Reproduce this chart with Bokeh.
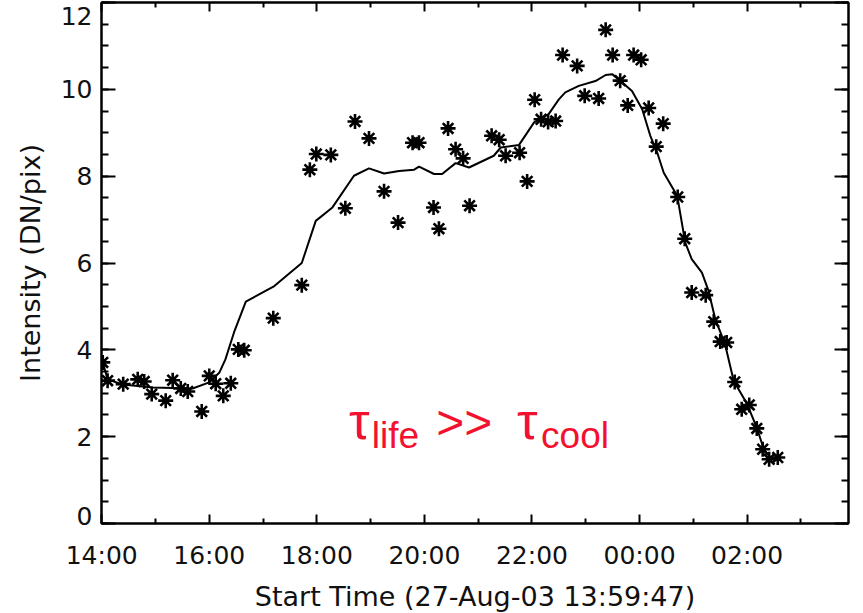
from bokeh.plotting import figure
from bokeh.models import Range1d, FixedTicker, LinearAxis, Label
from bokeh.embed import file_html
from bokeh.resources import INLINE

# ---- data (hours of day, continuing past midnight as 24+) ----
star_hours = [14.02, 14.11, 14.40, 14.67, 14.79, 14.93, 15.19, 15.32, 15.47, 15.60,
              15.86, 16.00, 16.12, 16.26, 16.40, 16.54, 16.65, 17.19, 17.72, 17.87,
              17.99, 18.26, 18.53, 18.71, 18.97, 19.25, 19.51, 19.78, 19.90, 20.17,
              20.27, 20.44, 20.58, 20.72, 20.84, 21.25, 21.39, 21.51, 21.77, 21.91,
              22.05, 22.17, 22.30, 22.44, 22.57, 22.84, 22.98, 23.24, 23.37, 23.50,
              23.64, 23.78, 23.89, 24.03, 24.17, 24.31, 24.44, 24.71, 24.84, 24.97,
              25.23, 25.38, 25.50, 25.62, 25.77, 25.90, 26.04, 26.18, 26.29, 26.41,
              26.57]
star_values = [3.71, 3.29, 3.21, 3.32, 3.27, 2.98, 2.83, 3.30, 3.11, 3.04,
               2.58, 3.40, 3.22, 2.94, 3.23, 4.01, 3.99, 4.73, 5.49, 8.15,
               8.51, 8.49, 7.26, 9.26, 8.87, 7.65, 6.93, 8.77, 8.77, 7.28,
               6.79, 9.10, 8.62, 8.41, 7.32, 8.93, 8.84, 8.47, 8.54, 7.88,
               9.76, 9.31, 9.25, 9.27, 10.79, 10.54, 9.85, 9.79, 11.37, 10.79,
               10.20, 9.63, 10.79, 10.68, 9.57, 8.68, 9.21, 7.52, 6.56, 5.32,
               5.26, 4.65, 4.19, 4.17, 3.26, 2.63, 2.73, 2.19, 1.71, 1.48,
               1.52]

line_hours = [14.02, 14.11, 14.39, 14.95, 15.69, 16.00, 16.19, 16.30, 16.46, 16.68,
              17.21, 17.72, 17.98, 18.29, 18.69, 18.97, 19.25, 19.53, 19.81, 19.90,
              20.18, 20.33, 20.58, 20.83, 21.29, 21.42, 21.76, 22.04, 22.31, 22.50,
              22.62, 22.87, 23.18, 23.37, 23.49, 23.64, 23.86, 24.05, 24.20, 24.33,
              24.45, 24.70, 24.85, 24.97, 25.16, 25.28, 25.41, 25.59, 25.75, 26.00,
              26.18, 26.31, 26.46]
line_values = [3.71, 3.32, 3.20, 3.13, 3.11, 3.25, 3.48, 3.78, 4.40, 5.11,
               5.47, 6.00, 6.97, 7.28, 8.01, 8.18, 8.06, 8.12, 8.15, 8.22,
               8.05, 8.05, 8.30, 8.20, 8.47, 8.66, 8.72, 9.24, 9.43, 9.77,
               9.93, 10.08, 10.19, 10.33, 10.35, 10.20, 9.96, 9.54, 8.93, 8.54,
               8.08, 7.55, 6.47, 6.09, 5.78, 5.37, 4.70, 4.13, 3.29, 2.75,
               2.21, 1.71, 1.48]

x_tick_hours = [14, 16, 18, 20, 22, 24, 26]
x_tick_labels = ["14:00", "16:00", "18:00", "20:00", "22:00", "00:00", "02:00"]
x_minor_hours = [15, 17, 19, 21, 23, 25, 27]
y_ticks = [0, 2, 4, 6, 8, 10, 12]
y_tick_labels = ["0", "2", "4", "6", "8", "10", "12"]
y_minor = [0.5 * i for i in range(25)]
# label anchors: like the original, the end labels sit just inside the axis span
y_label_anchor = [0.18, 2, 4, 6, 8, 10, 11.69]

start_hour = 13 + 59 / 60 + 47 / 3600
span_seconds = 50000

RED = "#f2122f"
FONT = "DejaVu Sans"
TXT = "#111111"

p = figure(frame_width=747, frame_height=521,
           x_range=Range1d(start_hour, start_hour + span_seconds / 3600),
           y_range=Range1d(0, 12),
           output_backend="svg", toolbar_location=None,
           min_border_left=101, min_border_top=2, min_border_right=5,
           min_border_bottom=78)
p.xgrid.visible = False
p.ygrid.visible = False
p.outline_line_color = "black"
p.outline_line_width = 2
p.outline_line_alpha = 1.0
p.background_fill_color = "white"
p.border_fill_color = "white"


def style(ax, major_len, minor_len, show_labels):
    ax.major_tick_in = major_len
    ax.major_tick_out = 0
    ax.minor_tick_in = minor_len
    ax.minor_tick_out = 0
    ax.axis_line_width = 2
    ax.axis_line_color = "black"
    ax.major_tick_line_width = 2
    ax.minor_tick_line_width = 2
    ax.major_tick_line_color = "black"
    ax.minor_tick_line_color = "black"
    ax.major_label_text_font = FONT
    ax.major_label_text_color = TXT
    ax.axis_label_text_font = FONT
    ax.axis_label_text_font_style = "normal"
    ax.axis_label_text_color = TXT
    if show_labels:
        ax.major_label_text_font_size = "25px"
        ax.axis_label_text_font_size = "27px"
    else:
        ax.major_label_text_font_size = "0px"
        ax.major_label_standoff = 0


xt = FixedTicker(ticks=x_tick_hours, minor_ticks=x_minor_hours)
yt = FixedTicker(ticks=y_ticks, minor_ticks=y_minor)

bx = p.xaxis[0]
bx.ticker = xt
bx.major_label_overrides = dict(zip(x_tick_hours, x_tick_labels))
bx.axis_label = "Start Time (27-Aug-03 13:59:47)"
style(bx, 9, 5, True)
bx.major_label_standoff = 17
bx.axis_label_standoff = 8

# left: inner axis draws the line and ticks only
ly = p.yaxis[0]
ly.ticker = yt
style(ly, 14, 7, False)
ly.major_label_overrides = {t: "" for t in y_ticks}

# left: outer axis carries the tick labels and the axis title
lab = LinearAxis(ticker=FixedTicker(ticks=y_label_anchor, minor_ticks=[]))
style(lab, 0, 0, True)
lab.axis_line_color = None
lab.major_tick_line_color = None
lab.minor_tick_line_color = None
lab.major_label_overrides = dict(zip(y_label_anchor, y_tick_labels))
lab.major_label_standoff = 9
lab.axis_label = "Intensity (DN/pix)"
lab.axis_label_standoff = 12
p.add_layout(lab, "left")

top = LinearAxis(ticker=xt)
style(top, 9, 5, False)
top.major_label_overrides = {t: "" for t in x_tick_hours}
p.add_layout(top, "above")

right = LinearAxis(ticker=yt)
style(right, 14, 7, False)
right.major_label_overrides = {t: "" for t in y_ticks}
p.add_layout(right, "right")

p.line(line_hours, line_values, line_color="black", line_width=2)
p.scatter(star_hours, star_values, marker="asterisk", size=15,
          line_color="black", line_width=2.6)

# annotation: tau_life >> tau_cool
for txt, xh, yv, size in [("τ", 18.60, 2.37, "52px"),
                          ("life", 19.02, 2.02, "37px"),
                          (">>", 20.22, 2.32, "48px"),
                          ("τ", 21.72, 2.37, "52px"),
                          ("cool", 22.17, 2.02, "37px")]:
    p.add_layout(Label(x=xh, y=yv, text=txt, text_color=RED,
                       text_font="Liberation Sans", text_font_size=size,
                       text_baseline="alphabetic", text_align="left"))

open("out.html", "w").write(file_html(p, INLINE))
